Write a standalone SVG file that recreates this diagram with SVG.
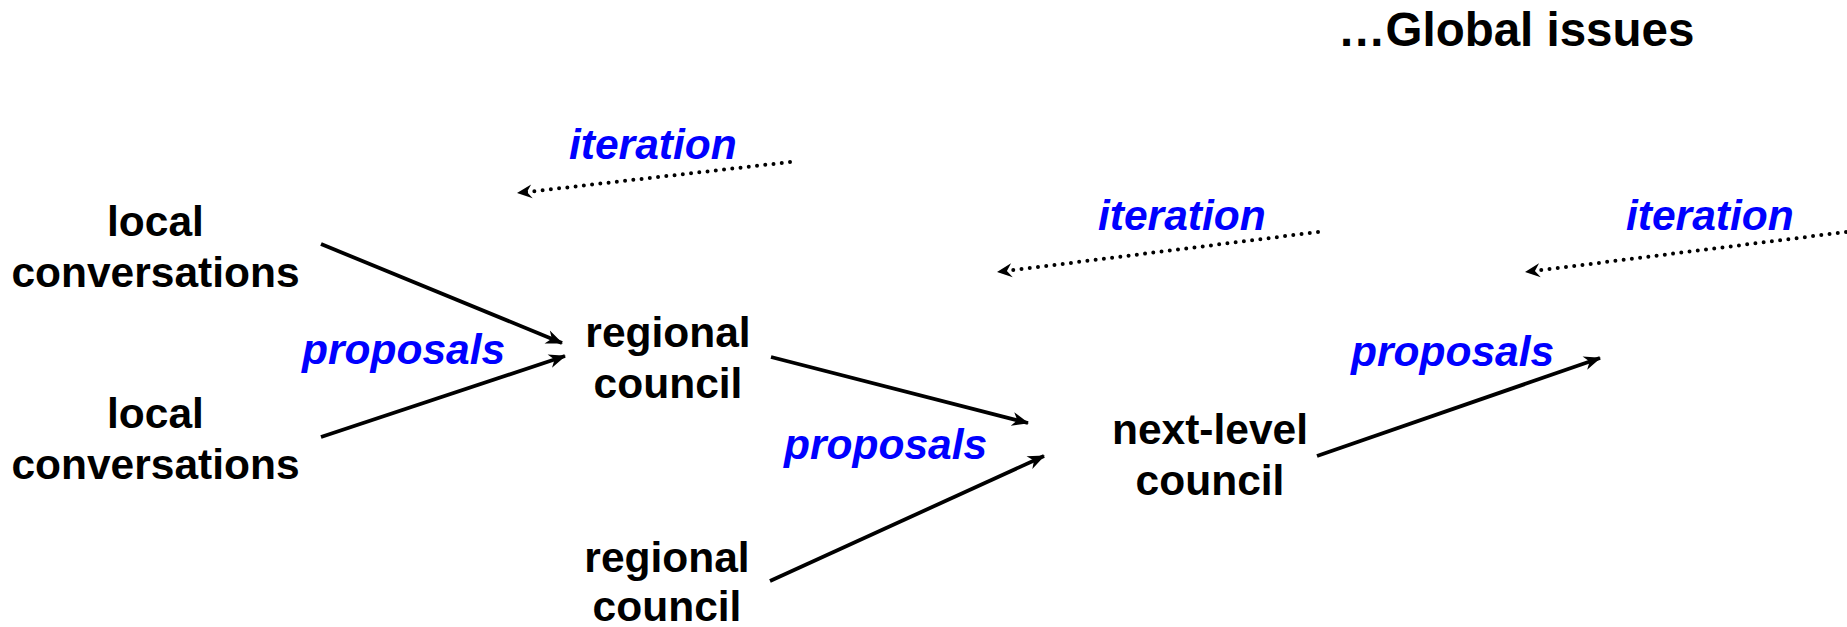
<svg xmlns="http://www.w3.org/2000/svg" width="1847" height="627" viewBox="0 0 1847 627">
  <style>
    .node { font-family: "Liberation Sans", Arial, sans-serif; font-weight: bold; font-size: 42.5px; fill: #000; text-anchor: middle; }
    .title { font-family: "Liberation Sans", Arial, sans-serif; font-weight: bold; font-size: 47.5px; fill: #000; }
    .lbl { font-family: "Liberation Sans", Arial, sans-serif; font-weight: bold; font-style: italic; font-size: 42.5px; fill: #0000FF; }
    .solid { stroke: #000; stroke-width: 3.8; fill: none; marker-end: url(#arr); }
    .dotted { stroke: #000; stroke-width: 4; fill: none; stroke-linecap: round; stroke-dasharray: 0 8.3; marker-end: url(#arr2); }
  </style>
  <defs>
    <marker id="arr" markerUnits="userSpaceOnUse" markerWidth="40" markerHeight="40" refX="0" refY="0" orient="auto" overflow="visible">
      <path d="M1,0 L-16,-7 L-11,0 L-16,7 Z" fill="#000"/>
    </marker>
    <marker id="arr2" markerUnits="userSpaceOnUse" markerWidth="40" markerHeight="40" refX="0" refY="0" orient="auto" overflow="visible">
      <path d="M1,0 L-14,-7 L-9,0 L-14,7 Z" fill="#000"/>
    </marker>
  </defs>

  <g id="title">
    <text class="title" x="1338" y="46">…Global issues</text>
  </g>

  <g id="local1">
    <text class="node" x="155.5" y="236">local</text>
    <text class="node" x="155.5" y="287">conversations</text>
  </g>
  <g id="local2">
    <text class="node" x="155.5" y="428">local</text>
    <text class="node" x="155.5" y="479">conversations</text>
  </g>
  <g id="regional1">
    <text class="node" x="668" y="347">regional</text>
    <text class="node" x="668" y="398">council</text>
  </g>
  <g id="regional2">
    <text class="node" x="667" y="572">regional</text>
    <text class="node" x="667" y="621">council</text>
  </g>
  <g id="nextlevel">
    <text class="node" x="1210" y="444">next-level</text>
    <text class="node" x="1210" y="495">council</text>
  </g>

  <g id="labels">
    <text class="lbl" x="302" y="364">proposals</text>
    <text class="lbl" x="784" y="459">proposals</text>
    <text class="lbl" x="1351" y="366">proposals</text>
    <text class="lbl" x="569" y="159">iteration</text>
    <text class="lbl" x="1098" y="230">iteration</text>
    <text class="lbl" x="1626" y="230">iteration</text>
  </g>

  <g id="connectors">
    <line class="solid" x1="321" y1="244" x2="562" y2="343"/>
    <line class="solid" x1="321" y1="437" x2="565" y2="356"/>
    <line class="solid" x1="771" y1="357" x2="1028" y2="423"/>
    <line class="solid" x1="770" y1="581" x2="1044" y2="456"/>
    <line class="solid" x1="1317" y1="456" x2="1600" y2="358"/>
    <line class="dotted" x1="790" y1="162" x2="518" y2="193"/>
    <line class="dotted" x1="1318" y1="232" x2="998" y2="272"/>
    <line class="dotted" x1="1846" y1="232" x2="1526" y2="272"/>
  </g>
</svg>
